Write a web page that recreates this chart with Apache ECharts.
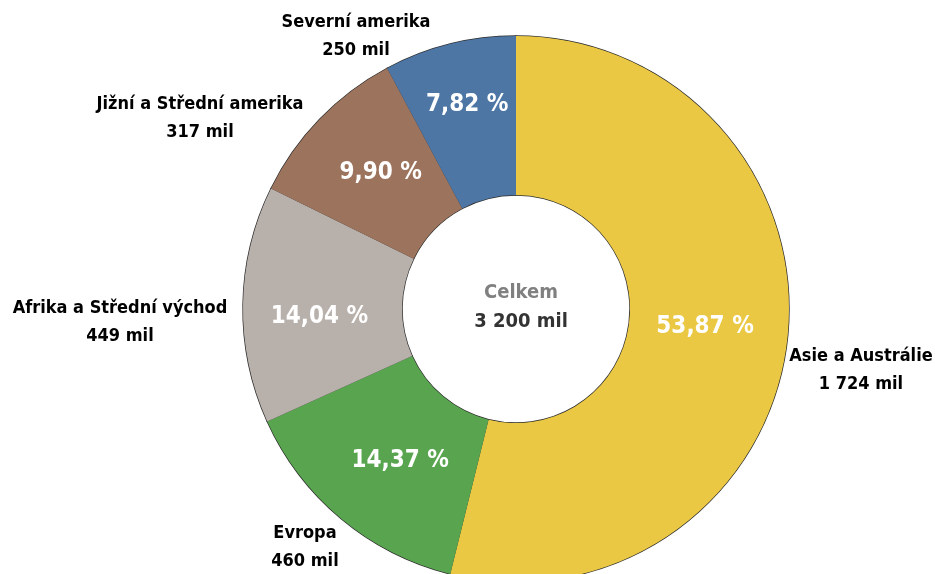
<!DOCTYPE html>
<html>
<head>
<meta charset="utf-8">
<script src="https://cdn.jsdelivr.net/npm/echarts@6/dist/echarts.min.js"></script>
<style>
  html, body { margin: 0; padding: 0; background: #ffffff; }
  #chart { width: 935px; height: 574px; }
</style>
</head>
<body>
<div id="chart"></div>
<script>
// Regions, clockwise from 12 o'clock
const regions = ['Asie a Austrálie', 'Evropa', 'Afrika a Střední východ', 'Jižní a Střední amerika', 'Severní amerika'];
const shares = [53.87, 14.37, 14.04, 9.90, 7.82];          // percent
const population = ['1 724', '460', '449', '317', '250'];  // millions
const totalLabel = '3 200 mil';
const colors = ['#EBC844', '#58A44F', '#B8B0AB', '#9C735C', '#4D76A5'];

const FONT = '"Liberation Sans Narrow", "DejaVu Sans Condensed", "Arial Narrow", sans-serif';

const CX = 516, CY = 309, R_IN = 114, R_OUT = 273;

// small nudges for the in-slice percentage labels
const pctShift = [[-6, -6], [10, 1], [0, 11], [6, 0], [-1, -14]];
// anchor points for the region name labels
const namePos = [[861, 370], [305, 547], [120, 322], [200, 118], [356, 36]];

const fmtPct = v => v.toFixed(2).replace('.', ',') + ' %';

const data = regions.map((name, i) => ({
  name: name,
  value: shares[i],
  itemStyle: { color: colors[i] }
}));

const chart = echarts.init(document.getElementById('chart'), null, { renderer: 'canvas' });
chart.setOption({
  backgroundColor: '#ffffff',
  animation: false,
  title: {
    text: 'Celkem',
    subtext: totalLabel,
    left: CX,
    top: CY - 31,
    textAlign: 'center',
    itemGap: 9,
    textStyle: { fontFamily: FONT, fontWeight: 'bold', fontSize: 20, color: '#808080' },
    subtextStyle: { fontFamily: FONT, fontWeight: 'bold', fontSize: 20, color: '#333333' }
  },
  series: [
    {
      type: 'pie',
      center: [CX, CY],
      radius: [R_IN, R_OUT],
      startAngle: 90,
      clockwise: true,
      silent: true,
      data: data,
      itemStyle: { borderColor: '#2e2e2e', borderWidth: 1.4 },
      label: {
        show: true,
        position: 'inside',
        formatter: p => fmtPct(p.value),
        fontFamily: FONT,
        fontWeight: 'bold',
        fontSize: 24,
        color: '#ffffff'
      },
      labelLayout: p => ({ dx: pctShift[p.dataIndex][0], dy: pctShift[p.dataIndex][1] }),
      labelLine: { show: false }
    },
    {
      type: 'pie',
      center: [CX, CY],
      radius: [R_IN, R_OUT],
      startAngle: 90,
      clockwise: true,
      silent: true,
      data: data,
      itemStyle: { color: 'transparent', borderWidth: 0 },
      label: {
        show: true,
        position: 'outside',
        formatter: p => p.name + '\n' + population[p.dataIndex] + ' mil',
        fontFamily: FONT,
        fontWeight: 'bold',
        fontSize: 18,
        lineHeight: 28,
        align: 'center',
        verticalAlign: 'middle',
        overflow: 'none',
        width: 400,
        color: '#000000'
      },
      labelLine: { show: false },
      labelLayout: p => ({
        x: namePos[p.dataIndex][0],
        y: namePos[p.dataIndex][1],
        align: 'center',
        verticalAlign: 'middle'
      })
    }
  ]
});
</script>
</body>
</html>
